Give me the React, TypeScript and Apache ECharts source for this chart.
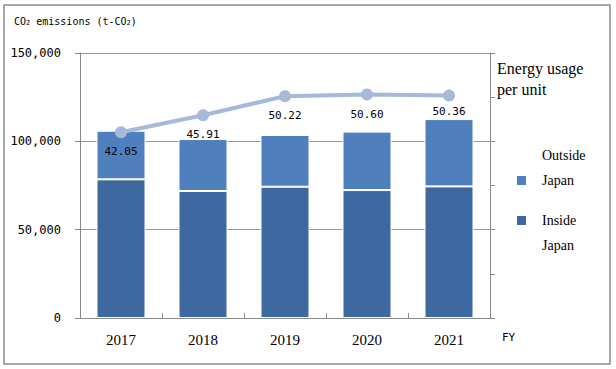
import React, { useEffect, useRef } from "react";
import * as echarts from "echarts";

const years = ["2017", "2018", "2019", "2020", "2021"];
const insideJapan = [78500, 71900, 74300, 72400, 74500];
const outsideJapan = [27500, 29400, 29300, 33100, 38100];
const energyPerUnit = [42.05, 45.91, 50.22, 50.6, 50.36];
const leftTicks = { min: 0, max: 150000, interval: 50000 };
const rightTicks = { min: 0, max: 60, interval: 10 };

const MONO = "'DejaVu Sans Mono', 'Liberation Mono', monospace";
const SERIF = "'Liberation Serif', 'DejaVu Serif', serif";

export default function App() {
  const ref = useRef<HTMLDivElement>(null);
  useEffect(() => {
    if (!ref.current) return;
    const chart = echarts.init(ref.current, undefined, { renderer: "svg" });
    const option: any = {
      animation: false,
      backgroundColor: "#fff",
      graphic: [
        {
          type: "rect",
          shape: { x: 4, y: 5, width: 606, height: 359 },
          style: { fill: "none", stroke: "#8c8c8c", lineWidth: 1.5 },
          silent: true,
        },
      ],
      title: [
        {
          text: "{a|CO}{s|2}{a| emissions (t-CO}{s|2}{a|)}",
          left: 14,
          top: 12,
          padding: 0,
          textStyle: {
            fontWeight: "normal",
            rich: {
              a: { fontFamily: MONO, fontSize: 10, fontWeight: "normal", color: "#000", verticalAlign: "bottom", lineHeight: 14 },
              s: { fontFamily: MONO, fontSize: 7, fontWeight: "normal", color: "#000", verticalAlign: "bottom", lineHeight: 12 },
            },
          },
        },
        {
          text: "Energy usage\nper unit",
          left: 497,
          top: 58,
          padding: 0,
          textStyle: {
            fontFamily: SERIF,
            fontSize: 16,
            fontWeight: "normal",
            color: "#000",
            lineHeight: 21,
          },
        },
      ],
      legend: [
        {
          data: ["Outside Japan"],
          left: 515,
          top: 143,
          padding: 0,
          orient: "vertical",
          selectedMode: false,
          itemWidth: 11,
          itemHeight: 11,
          icon: "rect",
          formatter: () => "Outside\nJapan\n ",
          textStyle: { fontFamily: SERIF, fontSize: 14, color: "#000", lineHeight: 25, padding: [0, 0, 0, 10] },
        },
        {
          data: ["Inside Japan"],
          left: 515,
          top: 183,
          padding: 0,
          orient: "vertical",
          selectedMode: false,
          itemWidth: 11,
          itemHeight: 11,
          icon: "rect",
          formatter: () => " \nInside\nJapan",
          textStyle: { fontFamily: SERIF, fontSize: 14, color: "#000", lineHeight: 25, padding: [0, 0, 0, 10] },
        },
      ],
      grid: { left: 80, right: 126, top: 53, bottom: 51, containLabel: false },
      xAxis: {
        type: "category",
        data: years,
        name: "FY",
        nameLocation: "end",
        nameGap: 12,
        nameTextStyle: {
          fontFamily: MONO,
          fontSize: 11,
          color: "#000",
          verticalAlign: "top",
          padding: [14, 0, 0, 0],
        },
        axisLine: { lineStyle: { color: "#888", width: 1 } },
        axisTick: { show: true, inside: true, length: 5, lineStyle: { color: "#888" } },
        axisLabel: { fontFamily: SERIF, fontSize: 15, color: "#000", margin: 14 },
      },
      yAxis: [
        {
          type: "value",
          ...leftTicks,
          axisLine: { show: true, lineStyle: { color: "#888" } },
          axisTick: { show: true, length: 5, lineStyle: { color: "#888" } },
          splitLine: { show: true, lineStyle: { color: "#999" } },
          axisLabel: {
            fontFamily: MONO,
            fontSize: 12,
            color: "#000",
            margin: 19,
            formatter: (v: number) => v.toLocaleString("en-US"),
          },
        },
        {
          type: "value",
          ...rightTicks,
          position: "right",
          axisLine: { show: true, lineStyle: { color: "#888" } },
          axisTick: { show: true, length: 5, lineStyle: { color: "#888" } },
          splitLine: { show: false },
          axisLabel: { show: false },
        },
      ],
      series: [
        {
          name: "Inside Japan",
          type: "bar",
          stack: "co2",
          data: insideJapan,
          barWidth: 49,
          itemStyle: { color: "#3e69a0", borderColor: "#fff", borderWidth: 1 },
        },
        {
          name: "Outside Japan",
          type: "bar",
          stack: "co2",
          data: outsideJapan,
          barWidth: 49,
          itemStyle: { color: "#4f80bd", borderColor: "#fff", borderWidth: 1 },
        },
        {
          name: "Energy usage per unit",
          type: "line",
          yAxisIndex: 1,
          data: energyPerUnit.map((v, i) =>
            i === energyPerUnit.length - 1 ? { value: v, label: { distance: 4 } } : v
          ),
          symbol: "circle",
          symbolSize: 12,
          lineStyle: { color: "#a7b9d9", width: 4 },
          itemStyle: { color: "#a7b9d9" },
          z: 5,
          label: {
            show: true,
            position: "bottom",
            distance: 8,
            fontFamily: MONO,
            fontSize: 11,
            color: "#000",
            formatter: (p: any) => Number(p.value).toFixed(2),
          },
        },
      ],
    };
    chart.setOption(option);
    return () => chart.dispose();
  }, []);
  return (
    <div
      ref={ref}
      style={{ position: "fixed", left: 0, top: 0, width: 616, height: 369 }}
    />
  );
}
